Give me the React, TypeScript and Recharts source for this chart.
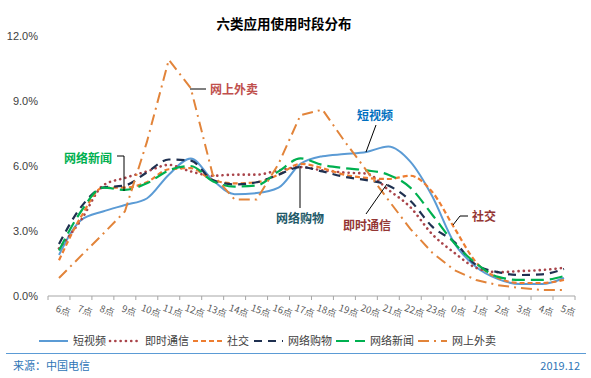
import React from 'react'
import { LineChart, Line, XAxis, YAxis } from 'recharts'

const hours = ['6点', '7点', '8点', '9点', '10点', '11点', '12点', '13点', '14点', '15点', '16点', '17点',
    '18点', '19点', '20点', '21点', '22点', '23点', '0点', '1点', '2点', '3点', '4点', '5点']

// share of daily usage per hour, in %
const shortVideo = [1.9, 3.5, 3.9, 4.2, 4.5, 5.6, 6.35, 5.35, 4.7, 4.75, 5.0, 6.1, 6.45, 6.55, 6.65, 6.9, 6.2, 4.6, 2.45, 1.34, 0.78, 0.55, 0.55, 0.83]
const instantMsg = [2.2, 3.5, 5.1, 5.45, 5.75, 6.05, 5.75, 5.55, 5.6, 5.6, 5.8, 5.95, 5.8, 5.7, 5.65, 4.9, 4.1, 2.85, 2.0, 1.3, 1.1, 1.15, 1.2, 1.3]
const social = [1.65, 3.65, 5.0, 5.0, 5.25, 5.85, 5.9, 5.35, 5.2, 5.25, 5.6, 6.1, 5.9, 5.6, 5.45, 5.4, 5.55, 4.8, 3.15, 1.55, 0.83, 0.6, 0.6, 0.74]
const shopping = [2.4, 4.1, 5.0, 5.1, 5.7, 6.3, 6.25, 5.35, 5.15, 5.25, 5.6, 5.95, 5.75, 5.5, 5.35, 5.1, 4.4, 3.2, 2.5, 1.43, 1.1, 0.97, 1.0, 1.25]
const news = [2.1, 3.9, 5.0, 4.9, 5.2, 5.8, 6.0, 5.3, 5.05, 5.1, 5.75, 6.35, 6.05, 5.9, 5.8, 5.6, 5.0, 3.75, 2.45, 1.5, 0.88, 0.74, 0.74, 0.92]
const takeaway = [0.83, 1.85, 2.86, 3.9, 7.1, 10.9, 9.6, 5.6, 4.45, 4.45, 6.1, 8.35, 8.6, 7.15, 5.8, 4.43, 3.1, 2.0, 1.2, 0.74, 0.5, 0.37, 0.28, 0.28]

const yTicks = [0, 3, 6, 9, 12]

const data = hours.map((h, i) => ({
    hour: h,
    shortVideo: shortVideo[i],
    instantMsg: instantMsg[i],
    social: social[i],
    shopping: shopping[i],
    news: news[i],
    takeaway: takeaway[i],
}))

const series = [
    { key: 'shortVideo', name: '短视频', color: '#5B9BD5', dash: undefined, width: 2, cap: 'butt', type: 'monotone', lx: 39, tx: 73 },
    { key: 'instantMsg', name: '即时通信', color: '#A9444A', dash: '0.1 5.2', width: 2.6, cap: 'round', type: 'monotone', lx: 110, tx: 145 },
    { key: 'social', name: '社交', color: '#ED7D31', dash: '5 3', width: 2.2, cap: 'butt', type: 'monotone', lx: 193, tx: 227 },
    { key: 'shopping', name: '网络购物', color: '#1F3050', dash: '8 6', width: 2.2, cap: 'butt', type: 'monotone', lx: 254, tx: 288 },
    { key: 'news', name: '网络新闻', color: '#00B050', dash: '13 6', width: 2.2, cap: 'butt', type: 'monotone', lx: 336, tx: 370 },
    { key: 'takeaway', name: '网上外卖', color: '#E2843A', dash: '11 5 2 5', width: 2, cap: 'butt', type: 'linear', lx: 418, tx: 452 },
]

const cjk = '"Noto Sans CJK SC", "Noto Sans", sans-serif'

function HourTick(props: any) {
    const { x, y, payload, index } = props
    return (
        <g>
            <line x1={x - 11} x2={x - 11} y1={y} y2={y + 4} stroke='#A6A6A6' />
            {index === hours.length - 1 && <line x1={x + 11} x2={x + 11} y1={y} y2={y + 4} stroke='#A6A6A6' />}
            <text x={x + 4} y={y + 18} textAnchor='middle' fontSize={9.5} fill='#595959'
                fontFamily={cjk} transform={`rotate(20 ${x + 4} ${y + 15})`}>
                {payload.value}
            </text>
        </g>
    )
}

function Overlay() {
    const label = { fontFamily: cjk, fontSize: 12, fontWeight: 700 } as const
    return (
        <svg width={591} height={378} style={{ position: 'absolute', left: 0, top: 0, pointerEvents: 'none' }}>
            <text x={284} y={29} textAnchor='middle' fontFamily={cjk} fontSize={13.5} fontWeight={700} fill='#000'>六类应用使用时段分布</text>

            {/* callouts */}
            <line x1={190} x2={206} y1={89} y2={89} stroke='#000' />
            <text x={210} y={93.5} fill='#C0504D' {...label}>网上外卖</text>
            <polyline points='117,156 124,156 124,191' fill='none' stroke='#000' />
            <text x={64} y={162.5} fill='#00B050' {...label}>网络新闻</text>
            <line x1={376} x2={366} y1={125} y2={152} stroke='#000' />
            <text x={357} y={119.5} fill='#0070C0' {...label}>短视频</text>
            <line x1={300} x2={300} y1={166} y2={208} stroke='#000' />
            <text x={276} y={223} fill='#215968' {...label}>网络购物</text>
            <line x1={366} x2={387} y1={214} y2={184} stroke='#000' />
            <text x={343} y={230} fill='#943634' {...label}>即时通信</text>
            <polyline points='453,225 460,216 468,216' fill='none' stroke='#000' />
            <text x={472} y={221} fill='#943634' {...label}>社交</text>

            {/* legend */}
            {series.map(s => (
                <g key={s.key}>
                    <line x1={s.lx} x2={s.lx + 29} y1={341} y2={341} stroke={s.color} strokeWidth={s.width}
                        strokeDasharray={s.dash} strokeLinecap={s.cap as any} />
                    <text x={s.tx} y={345} fontFamily={cjk} fontSize={11} fill='#404040'>{s.name}</text>
                </g>
            ))}

            <line x1={6} x2={586} y1={353.5} y2={353.5} stroke='#5B9BD5' />
            <text x={13} y={370} fontFamily={cjk} fontSize={11} fill='#2E75B6'>来源：中国电信</text>
            <text x={580} y={370} textAnchor='end' fontFamily={cjk} fontSize={11} fill='#2E75B6'>2019.12</text>
        </svg>
    )
}

export default function App() {
    return (
        <div style={{ position: 'absolute', left: 0, top: 0, width: 591, height: 378, background: '#fff' }}>
            <LineChart width={591} height={378} data={data} margin={{ top: 36, right: 16, bottom: 52, left: 8 }}>
                <XAxis dataKey='hour' padding={{ left: 11, right: 11 }} interval={0} height={30}
                    axisLine={{ stroke: '#A6A6A6' }} tickLine={false} tickSize={0} tickMargin={0}
                    tick={<HourTick />} />
                <YAxis domain={[0, 12]} ticks={yTicks} width={40} axisLine={false} tickLine={false}
                    tickSize={0} tickMargin={10}
                    tickFormatter={(v: number) => `${v.toFixed(1)}%`}
                    tick={{ fontSize: 11, fill: '#404040', fontFamily: '"Liberation Sans", Arial, sans-serif' }} />
                {series.map(s => (
                    <Line key={s.key} dataKey={s.key} name={s.name} type={s.type as any} stroke={s.color}
                        strokeWidth={s.width} strokeDasharray={s.dash} strokeLinecap={s.cap as any}
                        dot={false} activeDot={false} isAnimationActive={false} />
                ))}
            </LineChart>
            <Overlay />
        </div>
    )
}
